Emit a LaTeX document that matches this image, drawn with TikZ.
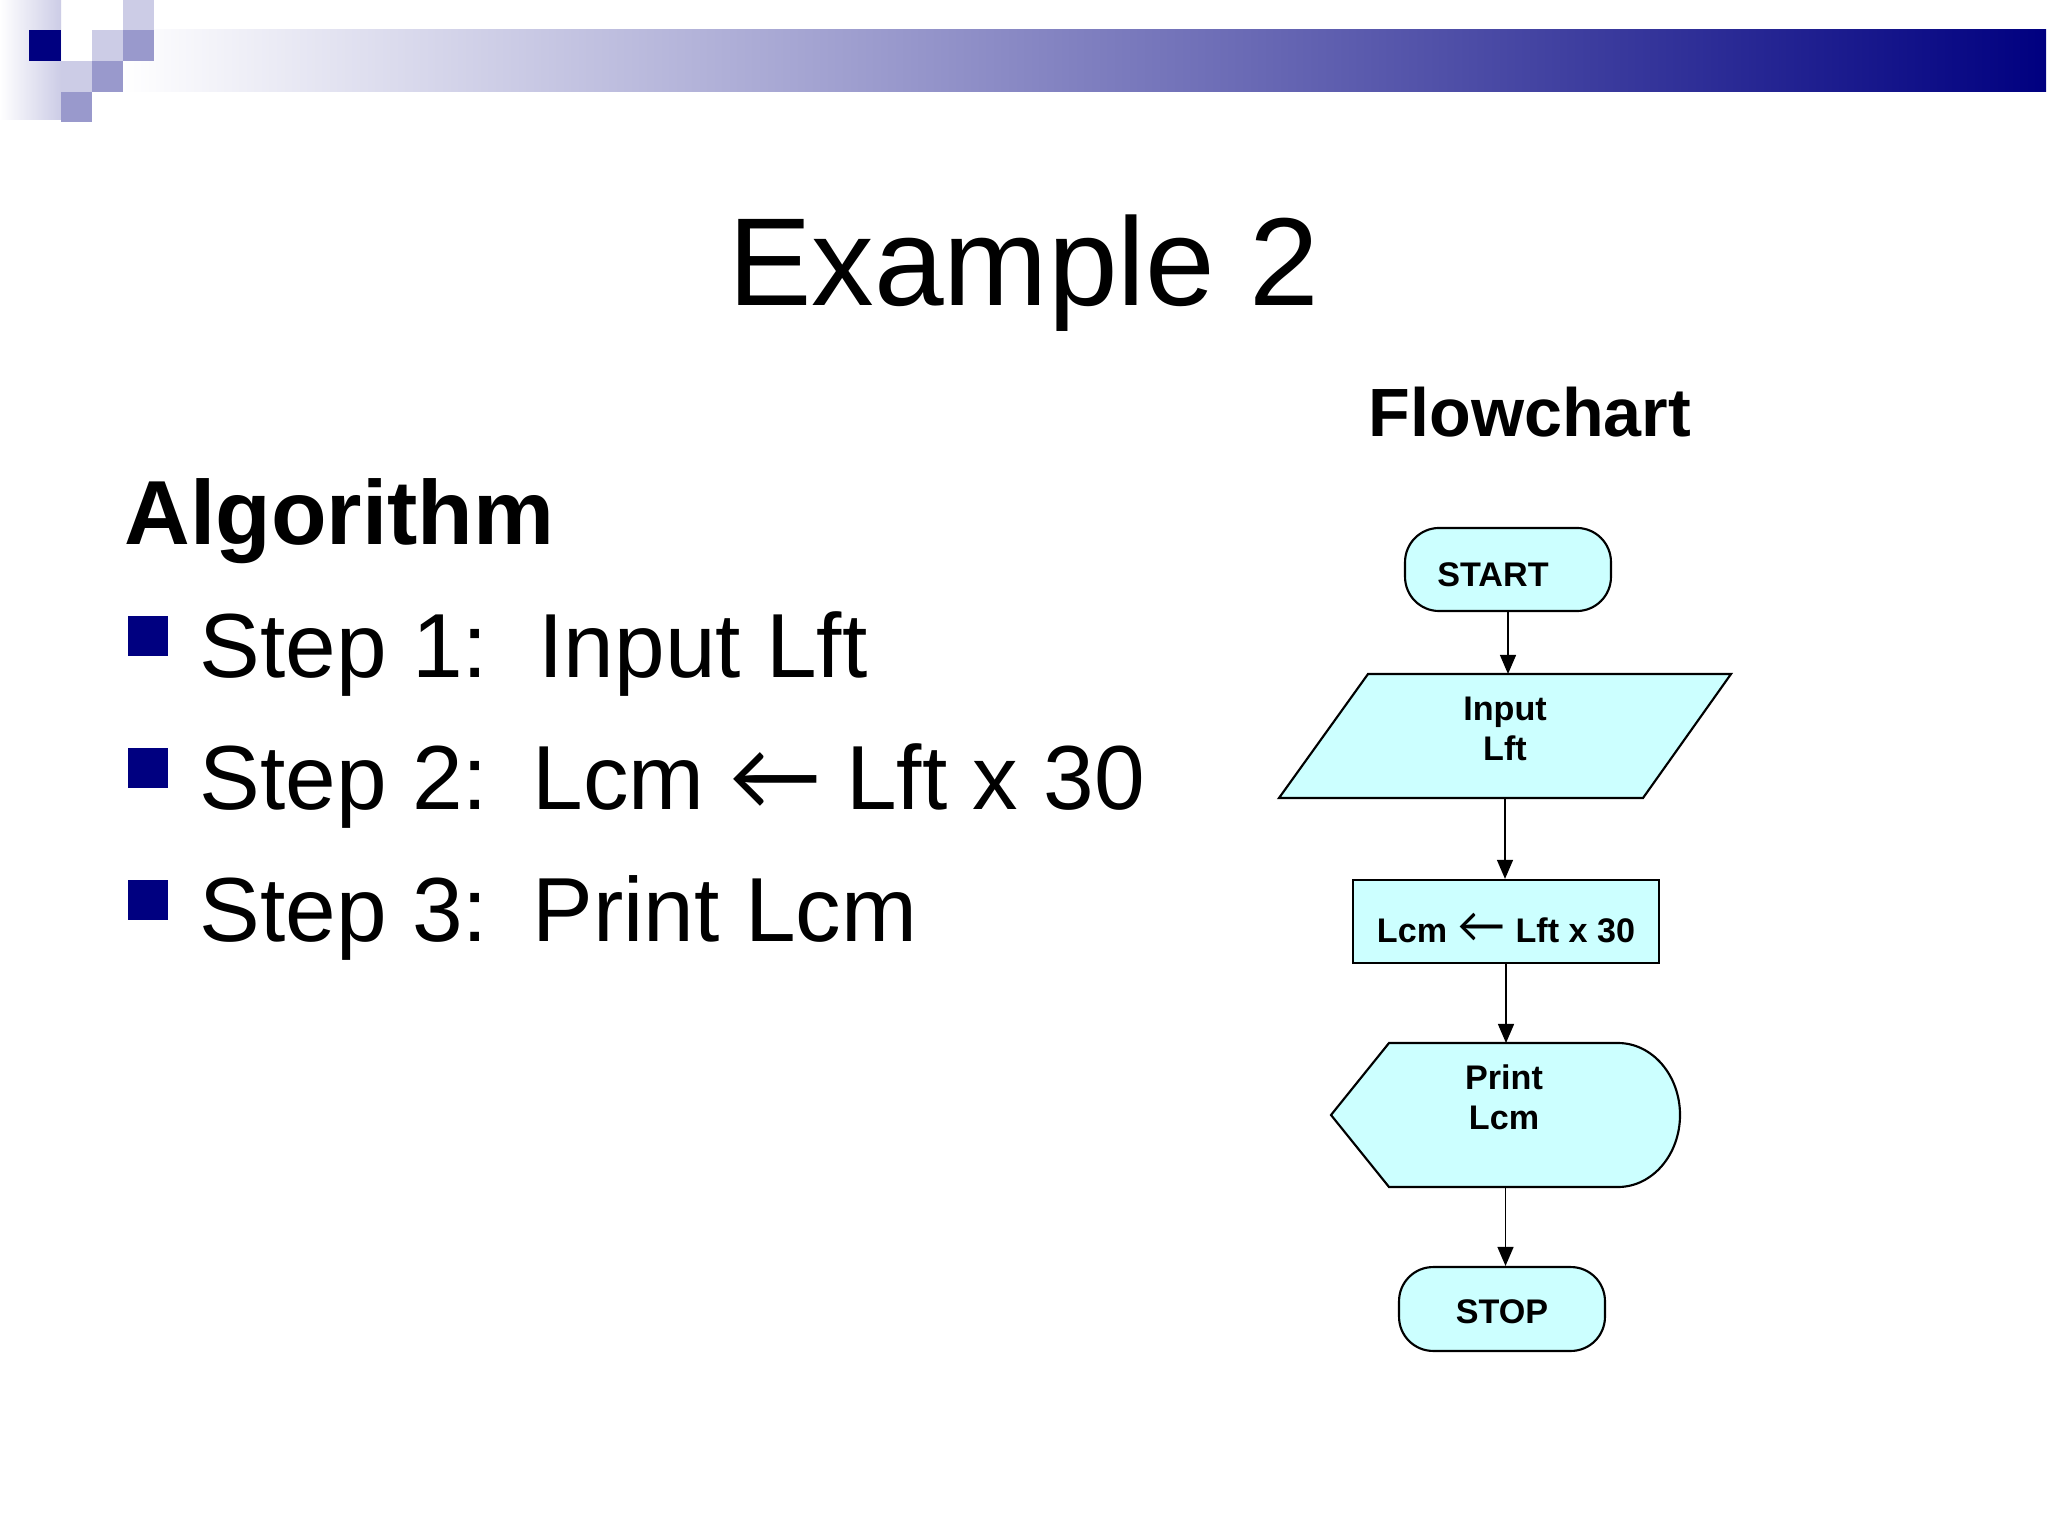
\documentclass[tikz,border=0pt]{standalone}
\usepackage{fontspec}
\setmainfont{Liberation Sans}
\newfontfamily\arrowfont{Lato}
\usetikzlibrary{arrows.meta}
\definecolor{navy}{RGB}{0,0,128}
\definecolor{lightlav}{RGB}{204,204,230}
\definecolor{medlav}{RGB}{153,153,204}
\definecolor{flowfill}{RGB}{204,255,255}
\begin{document}
\begin{tikzpicture}[x=0.3515625pt, y=-0.3515625pt,
  box/.style={draw=black, fill=flowfill, line width=0.75pt},
  holder/.style={draw=none, inner sep=0pt, outer sep=0pt},
  flowtxt/.style={font=\fontsize{12}{14}\selectfont\bfseries, anchor=base, inner sep=0pt},
  conn/.style={line width=0.6pt, -{Triangle[length=6.7pt,width=5.6pt]}},
  steptxt/.style={font=\fontsize{32}{38}\selectfont, anchor=base west, inner sep=0pt},
  bulletsq/.style={fill=navy}
]
% page
\fill[white] (0,0) rectangle (2048,1536);
\useasboundingbox (0,0) rectangle (2048,1536);

% header decoration
\shade[left color=white, right color=navy] (122,30) rectangle (2046,92);
\shade[left color=white, right color=lightlav] (0,0) rectangle (61,120);
\fill[lightlav] (123,0) rectangle (154,30);
\fill[navy] (29,30) rectangle (61,61);
\fill[lightlav] (92,30) rectangle (123,61);
\fill[medlav] (123,30) rectangle (154,61);
\fill[lightlav] (61,61) rectangle (92,92);
\fill[medlav] (92,61) rectangle (123,92);
\fill[medlav] (61,92) rectangle (92,122);

% titles
\node[anchor=base, inner sep=0pt, font=\fontsize{44}{52}\selectfont] (title) at (1024,306) {Example 2};
\node[anchor=base, inner sep=0pt, font=\fontsize{24}{28}\selectfont\bfseries] (fctitle) at (1530,437) {Flowchart};
\node[anchor=base west, inner sep=0pt, font=\fontsize{32}{38}\selectfont\bfseries] (algo) at (124,545) {Algorithm};

% algorithm steps
\fill[bulletsq] (128,616) rectangle (168,656);
\fill[bulletsq] (128,748) rectangle (168,788);
\fill[bulletsq] (128,880) rectangle (168,920);
\node[steptxt] (step1) at (199,677) {Step 1:\ \ Input Lft};
\node[steptxt] (step2) at (199,809) {Step 2:\hspace{15.7pt}Lcm \makebox[1em][c]{\fontsize{33}{38}\arrowfont ←} Lft x 30};
\node[steptxt] (step3) at (199,941) {Step 3:\hspace{15.7pt}Print Lcm};

% flowchart shapes
\node[box, rounded corners=12pt, minimum width=72.4pt, minimum height=29.2pt, inner sep=0pt] (start) at (1508,569.5) {};
\node[flowtxt] (starttxt) at (1493,586) {START};

\draw[box] (1368,674) -- (1731,674) -- (1643,798) -- (1279,798) -- cycle;
\node[holder, minimum width=158.9pt, minimum height=43.6pt] (input) at (1505,736) {};
\node[flowtxt] (inputtxt) at (1505,760) {\begin{tabular}[b]{@{}c@{}}Input\\Lft\end{tabular}};

\node[box, minimum width=107.6pt, minimum height=29.2pt, inner sep=0pt] (lcm) at (1506,921.5) {};
\node[flowtxt] (lcmtxt) at (1506,942) {Lcm \makebox[17.4pt][c]{\fontsize{17}{17}\arrowfont\mdseries ←} Lft x 30};

\draw[box] (1389,1043) -- (1618,1043) .. controls (1652.2,1043) and (1680,1075.2) .. (1680,1115)
  .. controls (1680,1154.8) and (1652.2,1187) .. (1618,1187) -- (1389,1187) -- (1331,1115) -- cycle;
\node[holder, minimum width=122.7pt, minimum height=50.6pt] (print) at (1505.5,1115) {};
\node[flowtxt] (printtxt) at (1504,1129) {\begin{tabular}[b]{@{}c@{}}Print\\Lcm\end{tabular}};

\node[box, rounded corners=12pt, minimum width=72.4pt, minimum height=29.5pt, inner sep=0pt] (stop) at (1502,1309) {};
\node[flowtxt] (stoptxt) at (1502,1323) {STOP};

% connectors
\draw[conn] (start.south) -- (start.south |- input.north);
\draw[conn] (input.south) -- (input.south |- lcm.north);
\draw[conn] (lcm.south) -- (lcm.south |- print.north);
\draw[conn] (print.south) -- (print.south |- stop.north);
\end{tikzpicture}
\end{document}
